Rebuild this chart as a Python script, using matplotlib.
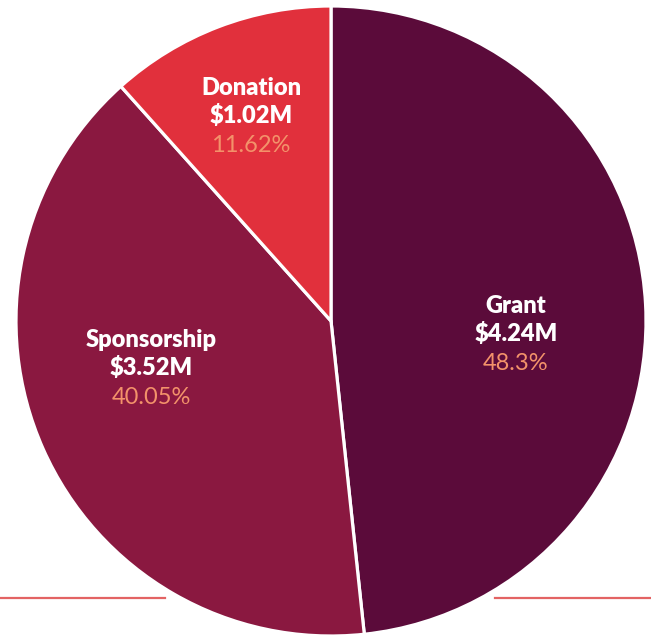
import matplotlib.pyplot as plt

# funding sources
sources = ['Grant', 'Sponsorship', 'Donation']
amounts = ['$4.24M', '$3.52M', '$1.02M']
shares = [48.3, 40.05, 11.62]
colors = ['#5b0b3a', '#8a1840', '#e1303c']

# where each label block sits (pixel coords, y from top)
label_pos = [(516, 306), (151, 340), (251, 88)]

W, H = 651, 637
fig = plt.figure(figsize=(W / 100, H / 100), dpi=100)
ax = fig.add_axes([0, 0, 1, 1])

# thin red rule behind the pie
ax.plot([0, 165], [H - 598, H - 598], color='#e36363', lw=1.6, zorder=0)
ax.plot([495, W], [H - 598, H - 598], color='#e36363', lw=1.6, zorder=0)

ax.pie(shares, colors=colors, startangle=90, counterclock=False,
       center=(331, H - 321), radius=315, frame=True,
       wedgeprops=dict(edgecolor='white', linewidth=2.3))
ax.set_xlim(0, W)
ax.set_ylim(0, H)
ax.set_aspect('equal')
ax.axis('off')

font = ['Lato', 'DejaVu Sans']
for name, amt, pct, (x, y) in zip(sources, amounts, shares, label_pos):
    ax.text(x, H - y, name, ha='center', va='center', color='white',
            fontsize=17, fontweight='heavy', family=font)
    ax.text(x, H - y - 28, amt, ha='center', va='center', color='white',
            fontsize=17, fontweight='heavy', family=font)
    ax.text(x, H - y - 57, f'{pct:g}%', ha='center', va='center', color='#f3926a',
            fontsize=17, family=font)

fig.savefig('out.png', dpi=100)
